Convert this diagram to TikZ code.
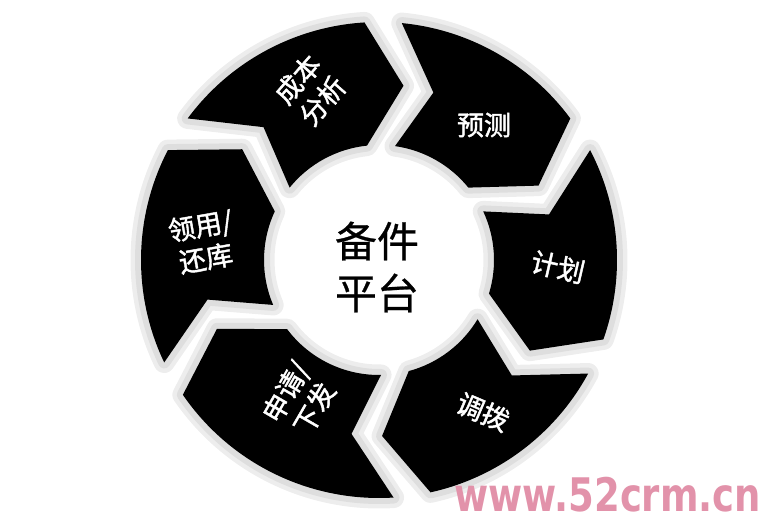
\documentclass[tikz,border=0pt]{standalone}
\usepackage{fontspec}
\newfontfamily\cjk[FakeBold=0.6]{Noto Sans CJK SC}
\newfontfamily\cjkb[FakeBold=1.6]{Noto Sans CJK SC}
\newfontfamily\wmfont{DejaVu Sans}
\definecolor{wmpink}{RGB}{226,146,170}
\begin{document}
\begin{tikzpicture}[x=1pt,y=1pt]
  \tikzstyle{seg}=[fill=black, line join=round,
    preaction={draw=black!7, line width=21pt, line join=round},
    preaction={draw=black!13, line width=12pt, line join=round}]
  \tikzstyle{lbl}=[text=white, font=\cjkb\fontsize{27}{33}\selectfont, align=center, inner sep=0pt]
  \tikzstyle{hub}=[font=\cjk\fontsize{42}{52}\selectfont, align=center, inner sep=0pt]
  \tikzstyle{wm}=[text=wmpink, font=\wmfont\bfseries\fontsize{37}{37}\selectfont, anchor=base west, inner sep=0pt]
  \useasboundingbox (0,0) rectangle (759,513);
  % ring of chevrons, clockwise
  \begin{scope}[shift={(379,253)}]
    \foreach \a/\b in {210/148,148/89,89/32,32/-24,-24/-82,-82/-150}
      \path[seg] (\a-4.5:238) arc[start angle=\a-4.5, end angle=\b+4.5, radius=238]
        -- (\b-7:176) -- (\b+7:115)
        arc[start angle=\b+7, end angle=\a-7, radius=115]
        -- (\a-17:176) -- cycle;
  \end{scope}
  \node [lbl, rotate=49] (cbfx) at (310,423) {成本\\分析};
  \node [lbl] (yc) at (484,388) {预测};
  \node [lbl, rotate=-13] (jh) at (558,246) {计划};
  \node [lbl, rotate=-23] (db) at (483,101) {调拨};
  \node [lbl, rotate=60] (sqxf) at (300,113) {申请/\\下发};
  \node [lbl, rotate=10] (lyhk) at (203,271) {领用/\\还库};
  \node [hub] (hub) at (377,246) {备件\\平台};
  \node [wm] (url) at (454,1) {\scalebox{1}[1.25]{www.52crm.cn}};
\end{tikzpicture}
\end{document}
